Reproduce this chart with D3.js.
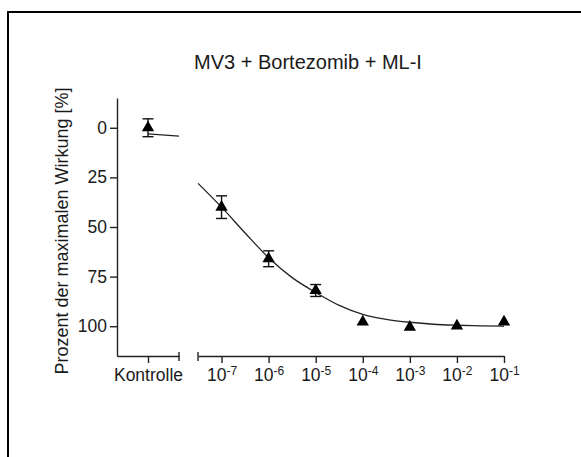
<!DOCTYPE html>
<meta charset="utf-8">
<style>
    body { margin: 0; overflow: hidden; background: #fff; }
    text { font-family: "Liberation Sans", Arial, sans-serif; fill: #1a1a1a; }
</style>
<svg id="canvas" width="581" height="457"></svg>
<script src="https://d3js.org/d3.v7.min.js"></script>
<script>

    // data (% of maximal effect)
    var title = "MV3 + Bortezomib + ML-I";
    var yLabel = "Prozent der maximalen Wirkung [%]";
    var yTicks = [0, 25, 50, 75, 100];
    var controlLabel = "Kontrolle";
    var controlMean = 0;
    var controlErr = 4.5;
    var controlLine = [3.1, 4.2];           // flat piece drawn in the control segment
    var logDose = [-7, -6, -5, -4, -3, -2, -1];
    var effectMean = [40, 66, 82, 97.8, 100.5, 99.8, 97.8];
    var effectErr = [5.7, 4, 3, 0, 0, 0, 0];
    var fitLogDose = [-7.5, -7, -6.5, -6, -5.5, -5, -4.5, -4, -3.5, -3, -2.5, -2, -1.5, -1];
    var fitEffect = [28, 40, 53, 65.5, 75.5, 83, 89.5, 94, 96.5, 98, 99, 99.5, 99.8, 100];

    var svg = d3.select("svg");

    // outer frame (only top and left edges are visible)
    svg.append("path")
       .attr("d", "M8,457V12H581")
       .attr("fill", "none")
       .attr("stroke", "#000")
       .attr("stroke-width", 2);

    var y = d3.scaleLinear().domain([-15, 115]).range([98, 356]);
    var xCtrl = d3.scalePoint().domain([controlLabel]).range([117, 179]).padding(0.5);
    var xDose = d3.scaleLog().domain([Math.pow(10, -7.5), 1e-1]).range([198, 504]);
    var ctrlEnd = xCtrl.range()[1];

    var axisColor = "#222";
    var g = svg.append("g");

    // y axis
    var yAxis = g.append("g")
        .attr("transform", "translate(117,0)")
        .call(d3.axisLeft(y).tickValues(yTicks).tickSize(7).tickPadding(3).tickSizeOuter(0));
    yAxis.select(".domain").attr("stroke", axisColor).attr("stroke-width", 1.4);
    yAxis.selectAll(".tick line").attr("stroke", axisColor).attr("stroke-width", 1.4);
    yAxis.selectAll(".tick text").attr("font-size", 17.5).attr("fill", "#1a1a1a")
        .style("font-family", "'Liberation Sans', Arial, sans-serif");

    // x axis: control segment
    var xAxisC = g.append("g")
        .attr("transform", "translate(0,356)")
        .call(d3.axisBottom(xCtrl).tickSize(7).tickPadding(6).tickSizeOuter(0));
    xAxisC.select(".domain").attr("stroke", axisColor).attr("stroke-width", 1.4);
    xAxisC.selectAll(".tick line").attr("stroke", axisColor).attr("stroke-width", 1.4);
    xAxisC.selectAll(".tick text").attr("font-size", 17.5).attr("fill", "#1a1a1a")
        .style("font-family", "'Liberation Sans', Arial, sans-serif");

    // x axis: dose segment
    var xAxisD = g.append("g")
        .attr("transform", "translate(0,356)")
        .call(d3.axisBottom(xDose)
            .tickValues(logDose.map(function(d) { return Math.pow(10, d); }))
            .tickSize(7).tickPadding(6).tickSizeOuter(0)
            .tickFormat(function() { return ""; }));
    xAxisD.select(".domain").attr("stroke", axisColor).attr("stroke-width", 1.4);
    xAxisD.selectAll(".tick line").attr("stroke", axisColor).attr("stroke-width", 1.4);
    xAxisD.selectAll(".tick text").each(function(d) {
        var t = d3.select(this)
            .attr("font-size", 17.5)
            .attr("fill", "#1a1a1a")
            .style("font-family", "'Liberation Sans', Arial, sans-serif");
        t.append("tspan").text("10");
        t.append("tspan").attr("font-size", 12).attr("dy", "-0.5em")
         .text("-" + Math.round(-Math.log10(d)));
    });

    // break caps at the segment ends
    [ctrlEnd, xDose.range()[0]].forEach(function(cx) {
        g.append("line")
         .attr("x1", cx).attr("x2", cx)
         .attr("y1", 352).attr("y2", 361)
         .attr("stroke", axisColor).attr("stroke-width", 1.4);
    });

    // fitted curve
    var fit = fitLogDose.map(function(d, i) { return [xDose(Math.pow(10, d)), y(fitEffect[i])]; });
    g.append("path")
     .attr("d", d3.line().curve(d3.curveMonotoneX)(fit))
     .attr("fill", "none")
     .attr("stroke", "#222")
     .attr("stroke-width", 1.3);

    g.append("line")
     .attr("x1", xCtrl(controlLabel)).attr("x2", ctrlEnd)
     .attr("y1", y(controlLine[0])).attr("y2", y(controlLine[1]))
     .attr("stroke", "#222").attr("stroke-width", 1.3);

    // points with error bars
    var pts = [{x: xCtrl(controlLabel), m: controlMean, e: controlErr}];
    logDose.forEach(function(d, i) {
        pts.push({x: xDose(Math.pow(10, d)), m: effectMean[i], e: effectErr[i]});
    });

    var bars = g.append("g").selectAll("g")
        .data(pts.filter(function(p) { return p.e > 0; }))
        .enter().append("g")
        .attr("stroke", "#111").attr("stroke-width", 1.4);
    bars.append("line")
        .attr("x1", function(p) { return p.x; }).attr("x2", function(p) { return p.x; })
        .attr("y1", function(p) { return y(p.m - p.e); }).attr("y2", function(p) { return y(p.m + p.e); });
    bars.append("line")
        .attr("x1", function(p) { return p.x - 5.5; }).attr("x2", function(p) { return p.x + 5.5; })
        .attr("y1", function(p) { return y(p.m - p.e); }).attr("y2", function(p) { return y(p.m - p.e); });
    bars.append("line")
        .attr("x1", function(p) { return p.x - 5.5; }).attr("x2", function(p) { return p.x + 5.5; })
        .attr("y1", function(p) { return y(p.m + p.e); }).attr("y2", function(p) { return y(p.m + p.e); });

    g.append("g").selectAll("path")
     .data(pts)
     .enter().append("path")
     .attr("d", d3.symbol().type(d3.symbolTriangle).size(66))
     .attr("transform", function(p) { return "translate(" + p.x + "," + y(p.m) + ")"; })
     .attr("fill", "#000");

    // titles
    svg.append("text")
       .attr("x", 308).attr("y", 69)
       .attr("text-anchor", "middle")
       .attr("font-size", 20)
       .text(title);

    svg.append("text")
       .attr("transform", "translate(68,231) rotate(-90)")
       .attr("text-anchor", "middle")
       .attr("font-size", 18)
       .text(yLabel);

</script>
